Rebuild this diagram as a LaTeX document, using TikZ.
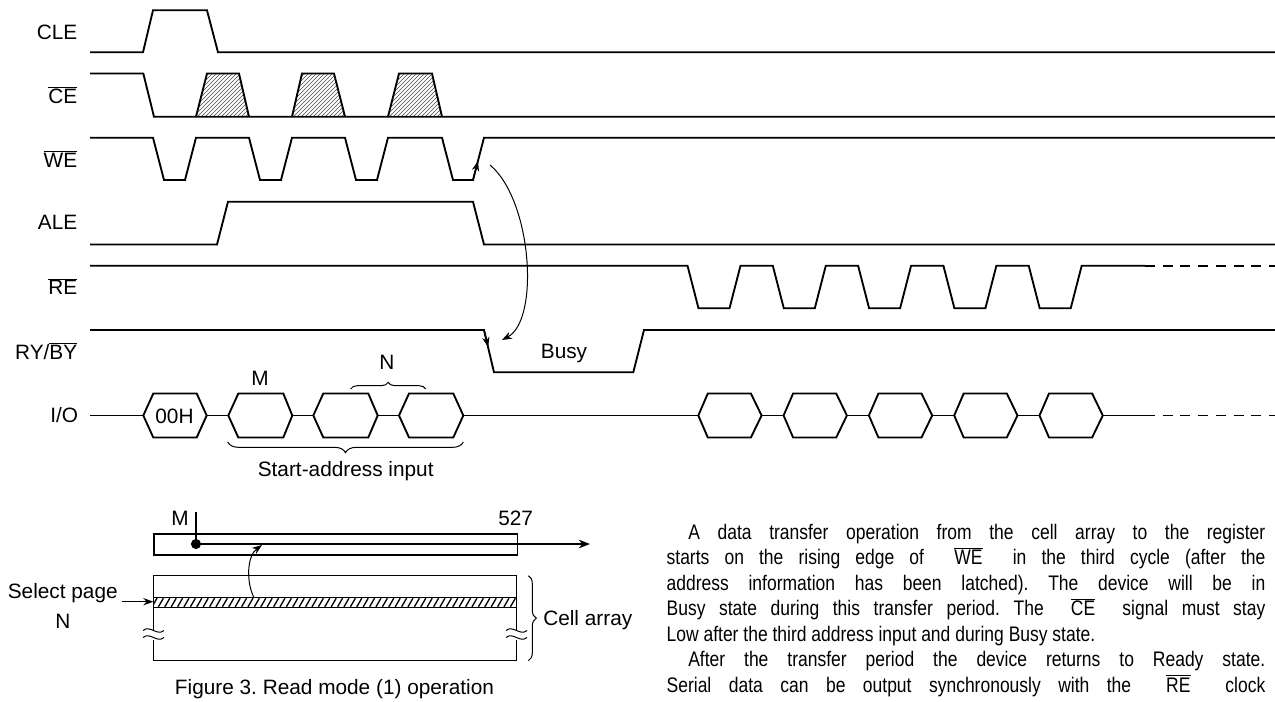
\documentclass[tikz,border=0pt]{standalone}
\usepackage{fontspec}
\setmainfont{Liberation Sans}
\newfontfamily\narrowfont[FakeStretch=0.83]{Liberation Sans}
\usetikzlibrary{patterns,arrows.meta,decorations.pathreplacing}
\newcommand\ol[1]{$\overline{\mbox{#1}}$}
\frenchspacing
\begin{document}
\begin{tikzpicture}[x=0.75pt,y=-0.75pt,
  font=\fontsize{15.6}{18}\selectfont,
  sig/.style={line width=1.4pt, line join=miter},
  dsig/.style={line width=1.4pt, dash pattern=on 7.5pt off 5.8pt},
  thinl/.style={line width=0.75pt},
  boxl/.style={line width=1pt},
  lbl/.style={anchor=base, inner sep=0pt},
  lbr/.style={anchor=base east, inner sep=0pt},
  parl/.style={anchor=base west, inner sep=0pt, font=\narrowfont\fontsize{15.8}{18}\selectfont},
  tip/.style={-{Stealth[length=7.5pt,width=5.5pt]}},
  brc/.style={thinl, decorate, decoration={brace, amplitude=#1}}
]
\useasboundingbox (0,0) rectangle (1275,702);

% ---------- labels ----------
\node[lbr] (lCLE) at (77.5,39.3) {CLE};
\node[lbr] (lCE) at (77.5,103.3) {\ol{CE}};
\node[lbr] (lWE) at (77.5,167.3) {\ol{WE}};
\node[lbr] (lALE) at (77.5,230) {ALE};
\node[lbr] (lRE) at (77.5,295) {\ol{RE}};
\node[lbr] (lRY) at (77.5,359) {RY/\ol{BY}};
\node[lbr] (lIO) at (78.3,422.7) {I/O};

% ---------- CLE ----------
\draw[sig] (90,52.3) -- (143,52.3) -- (153,10.3) -- (207,10.3) -- (218,52.3) -- (1275,52.3);

% ---------- CE ----------
\foreach \a/\b/\c/\d in {196/207/239/249, 292/302/334/345, 388/399/432/442}
  \draw[sig, pattern=north east lines, pattern color=black!70] (\a,116.7) -- (\b,73.5) -- (\c,73.5) -- (\d,116.7);
\draw[sig] (90,73.5) -- (143.3,73.5) -- (154,116.7) -- (1275,116.7);

% ---------- WE ----------
\draw[sig] (90,137.7) -- (153,137.7) -- (164,180) -- (185,180) -- (196,137.7)
  -- (249,137.7) -- (260,180) -- (281,180) -- (292,137.7)
  -- (345,137.7) -- (356,180) -- (377,180) -- (388,137.7)
  -- (442,137.7) -- (453,180) -- (473,180) -- (484,137.7) -- (1275,137.7);

% ---------- ALE ----------
\draw[sig] (90,244.5) -- (217,244.5) -- (228,201.7) -- (473,201.7) -- (484,244.5) -- (1275,244.5);

% ---------- RE ----------
\draw[sig] (90,265.7) -- (687.5,265.7)
  \foreach \i in {0,...,4}{ -- ++(11,42.6) -- ++(31,0) -- ++(11,-42.6) -- ++(32.3,0) }
  -- (1145,265.7);
\draw[dsig] (1145,265.7) -- (1275,265.7);

% ---------- RY/BY ----------
\draw[sig] (90,330) -- (484,330) -- (494,372.3) -- (633.3,372.3) -- (644,330) -- (1275,330);
\node[lbl] (busy) at (564,358.3) {Busy};

% edge arrows
\draw[tip, line width=1pt] (473,180) -- (478,161);
\draw[tip, line width=1pt] (484,330) -- (488.2,347);
\coordinate (wetop) at (490,165);
\coordinate (rybot) at (502,340);
\draw[thinl, tip] (wetop) .. controls (532,200) and (540,320) .. (rybot);

% ---------- I/O ----------
\draw[sig] (90,415.5) -- (1145,415.5);
\draw[dsig] (1145,415.5) -- (1275,415.5);
\foreach \a/\b/\c/\d in {143.3/153.3/196.7/206.7, 228.3/238.3/283.3/292.3, 313.3/323.3/368.3/377.7, 399/409/453.3/463.3}
  \draw[sig, fill=white] (\a,415.5) -- (\b,393.5) -- (\c,393.5) -- (\d,415.5) -- (\c,437.5) -- (\b,437.5) -- cycle;
\foreach \i in {0,...,4}
  \draw[sig, fill=white] ({698.3+85.3*\i},415.5) -- ++(9.5,-22) -- ++(43.1,0) -- ++(10.7,22) -- ++(-10.7,22) -- ++(-43.1,0) -- cycle;
\node[lbl] (h00) at (174.5,423.3) {00H};
\node[lbl] (hM) at (260,385.7) {M};
\node[lbl] (hN) at (387,369) {N};
\draw[brc=5pt] (350.7,389) -- (425.7,389);
\draw[brc=8pt] (463.3,442) -- (227.7,442);
\node[lbl] (sai) at (345.7,476.7) {Start-address input};

% ---------- bottom diagram ----------
\node[draw, boxl, minimum width=272.5pt, minimum height=15.75pt, inner sep=0pt, anchor=north west] (reg) at (153.3,533.3) {};
\node[lbl] (bM) at (180,525) {M};
\node[lbl] (b527) at (515.7,525) {527};
\coordinate (mtop) at (196,511.7);
\coordinate (mdot) at (196,544);
\coordinate (rout) at (590,544);
\draw[boxl] (mtop) -- (mdot);
\fill (mdot) circle (3.8pt);
\draw[boxl, -{Stealth[length=8.5pt,width=6.5pt]}] (mdot) -- (rout);

% cell array
\draw[boxl] (153.3,630) -- (153.3,575.7) -- (516.7,575.7) -- (516.7,630);
\draw[boxl] (153.3,640) -- (153.3,660.7) -- (516.7,660.7) -- (516.7,640);
\begin{scope}
  \clip (153.3,597.7) rectangle (516.7,607.3);
  \foreach \x in {152,158.4,...,520}
    \draw[line width=1pt] (\x,606.8) -- (\x+5,598.2);
\end{scope}
\draw[boxl] (153.3,597.7) rectangle (516.7,607.3);
% break marks
\foreach \xx in {143,506}{
  \fill[white] (\xx,630.5) .. controls (\xx+7,624.5) and (\xx+14,636.5) .. (\xx+21,630.5)
     -- (\xx+21,637.5) .. controls (\xx+14,643.5) and (\xx+7,631.5) .. (\xx,637.5) -- cycle;
  \draw[thinl] (\xx,630.5) .. controls (\xx+7,624.5) and (\xx+14,636.5) .. (\xx+21,630.5);
  \draw[thinl] (\xx,637.5) .. controls (\xx+7,631.5) and (\xx+14,643.5) .. (\xx+21,637.5);
}
\coordinate (strip) at (254,597.7);
\coordinate (regin) at (262,545);
\draw[thinl, tip] (strip) .. controls (246,582) and (247,556) .. (regin);
\draw[brc=6pt] (528.3,575.7) -- (528.3,660.7);
\node[anchor=base west, inner sep=0pt] (cell) at (543,625) {Cell array};
\node[lbl] (sel) at (62.8,598.3) {Select page};
\node[lbl] (selN) at (62.8,628.3) {N};
\coordinate (selend) at (121.7,601.7);
\coordinate (selin) at (153.3,601.7);
\draw[boxl, tip] (selend) -- (selin);
\node[lbl] (fig) at (334.5,694) {Figure 3. Read mode (1) operation};

% ---------- paragraph ----------
\node[parl] (p1) at (688,539) {\makebox[432.75pt][s]{A data transfer operation from the cell array to the register}};
\node[parl] (p2) at (666.4,564.5) {\makebox[449pt][s]{starts on the rising edge of\ \ \ol{WE}\ \ in the third cycle (after the}};
\node[parl] (p3) at (666.4,590) {\makebox[449pt][s]{address information has been latched). The device will be in}};
\node[parl] (p4) at (666.4,615.5) {\makebox[449pt][s]{Busy state during this transfer period. The\ \ \ol{CE}\ \ signal must stay}};
\node[parl] (p5) at (666.4,641) {Low after the third address input and during Busy state.};
\node[parl] (p6) at (688,666.5) {\makebox[432.75pt][s]{After the transfer period the device returns to Ready state.}};
\node[parl] (p7) at (666.4,692) {\makebox[449pt][s]{Serial data can be output synchronously with the\ \ \ol{RE}\ \ clock}};
\end{tikzpicture}
\end{document}
